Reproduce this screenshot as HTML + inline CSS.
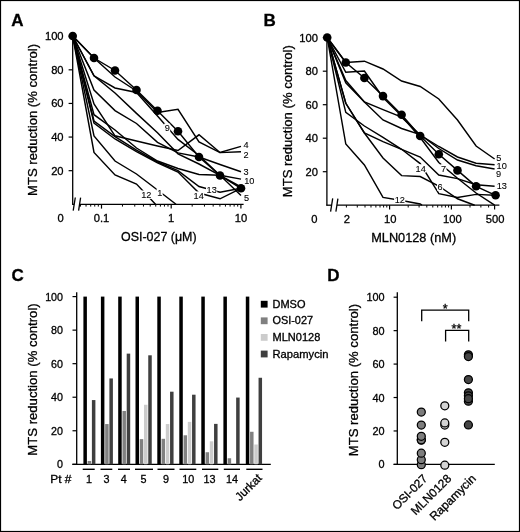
<!DOCTYPE html><html><head><meta charset="utf-8"><style>html,body{margin:0;padding:0;background:#fff;}svg{display:block;filter:grayscale(1);}</style></head><body>
<svg width="520" height="532" viewBox="0 0 520 532" font-family='"Liberation Sans", sans-serif'>
<style>text{stroke:#000;stroke-width:0.3px;paint-order:fill;} text.lb{stroke-width:0.1px;}</style>
<rect x="0" y="0" width="520" height="532" fill="#fff"/>
<rect x="0.5" y="0.5" width="519" height="531" fill="none" stroke="#000" stroke-width="1.2"/>
<text x="11.3" y="25.6" font-size="17" font-weight="bold">A</text>
<text x="263.5" y="25.6" font-size="17" font-weight="bold">B</text>
<text x="11.6" y="281.3" font-size="17" font-weight="bold">C</text>
<text x="327.2" y="281.3" font-size="17" font-weight="bold">D</text>
<line x1="72.7" y1="35.7" x2="72.7" y2="204.5" stroke="#000" stroke-width="1.3"/>
<line x1="68.60000000000001" y1="36.19999999999999" x2="72.7" y2="36.19999999999999" stroke="#000" stroke-width="1.2"/>
<text x="63.6" y="40.09999999999999" font-size="11.2" text-anchor="end">100</text>
<line x1="68.60000000000001" y1="69.82" x2="72.7" y2="69.82" stroke="#000" stroke-width="1.2"/>
<text x="63.6" y="73.72" font-size="11.2" text-anchor="end">80</text>
<line x1="68.60000000000001" y1="103.44" x2="72.7" y2="103.44" stroke="#000" stroke-width="1.2"/>
<text x="63.6" y="107.34" font-size="11.2" text-anchor="end">60</text>
<line x1="68.60000000000001" y1="137.06" x2="72.7" y2="137.06" stroke="#000" stroke-width="1.2"/>
<text x="63.6" y="140.96" font-size="11.2" text-anchor="end">40</text>
<line x1="68.60000000000001" y1="170.68" x2="72.7" y2="170.68" stroke="#000" stroke-width="1.2"/>
<text x="63.6" y="174.58" font-size="11.2" text-anchor="end">20</text>
<line x1="72.10000000000001" y1="204.3" x2="74.0" y2="204.3" stroke="#000" stroke-width="1.3"/>
<line x1="73.2" y1="210.70000000000002" x2="75.3" y2="197.5" stroke="#000" stroke-width="1.3"/>
<line x1="78.6" y1="210.70000000000002" x2="80.6" y2="197.70000000000002" stroke="#000" stroke-width="1.3"/>
<line x1="79.6" y1="204.3" x2="243.6" y2="204.3" stroke="#000" stroke-width="1.3"/>
<line x1="101.5" y1="204.3" x2="101.5" y2="208.60000000000002" stroke="#000" stroke-width="1.2"/>
<line x1="171.2" y1="204.3" x2="171.2" y2="208.60000000000002" stroke="#000" stroke-width="1.2"/>
<line x1="240.9" y1="204.3" x2="240.9" y2="208.60000000000002" stroke="#000" stroke-width="1.2"/>
<line x1="80.51820930222051" y1="204.3" x2="80.51820930222051" y2="206.60000000000002" stroke="#000" stroke-width="1.0"/>
<line x1="86.03714215173996" y1="204.3" x2="86.03714215173996" y2="206.60000000000002" stroke="#000" stroke-width="1.0"/>
<line x1="90.7033333889937" y1="204.3" x2="90.7033333889937" y2="206.60000000000002" stroke="#000" stroke-width="1.0"/>
<line x1="94.74537209333846" y1="204.3" x2="94.74537209333846" y2="206.60000000000002" stroke="#000" stroke-width="1.0"/>
<line x1="98.31070290792094" y1="204.3" x2="98.31070290792094" y2="206.60000000000002" stroke="#000" stroke-width="1.0"/>
<line x1="122.48179069777949" y1="204.3" x2="122.48179069777949" y2="206.60000000000002" stroke="#000" stroke-width="1.0"/>
<line x1="134.7553514539605" y1="204.3" x2="134.7553514539605" y2="206.60000000000002" stroke="#000" stroke-width="1.0"/>
<line x1="143.46358139555898" y1="204.3" x2="143.46358139555898" y2="206.60000000000002" stroke="#000" stroke-width="1.0"/>
<line x1="150.21820930222052" y1="204.3" x2="150.21820930222052" y2="206.60000000000002" stroke="#000" stroke-width="1.0"/>
<line x1="155.73714215174" y1="204.3" x2="155.73714215174" y2="206.60000000000002" stroke="#000" stroke-width="1.0"/>
<line x1="160.4033333889937" y1="204.3" x2="160.4033333889937" y2="206.60000000000002" stroke="#000" stroke-width="1.0"/>
<line x1="164.44537209333848" y1="204.3" x2="164.44537209333848" y2="206.60000000000002" stroke="#000" stroke-width="1.0"/>
<line x1="168.01070290792094" y1="204.3" x2="168.01070290792094" y2="206.60000000000002" stroke="#000" stroke-width="1.0"/>
<line x1="192.1817906977795" y1="204.3" x2="192.1817906977795" y2="206.60000000000002" stroke="#000" stroke-width="1.0"/>
<line x1="204.45535145396047" y1="204.3" x2="204.45535145396047" y2="206.60000000000002" stroke="#000" stroke-width="1.0"/>
<line x1="213.163581395559" y1="204.3" x2="213.163581395559" y2="206.60000000000002" stroke="#000" stroke-width="1.0"/>
<line x1="219.91820930222053" y1="204.3" x2="219.91820930222053" y2="206.60000000000002" stroke="#000" stroke-width="1.0"/>
<line x1="225.43714215173998" y1="204.3" x2="225.43714215173998" y2="206.60000000000002" stroke="#000" stroke-width="1.0"/>
<line x1="230.10333338899372" y1="204.3" x2="230.10333338899372" y2="206.60000000000002" stroke="#000" stroke-width="1.0"/>
<line x1="234.14537209333847" y1="204.3" x2="234.14537209333847" y2="206.60000000000002" stroke="#000" stroke-width="1.0"/>
<line x1="237.71070290792093" y1="204.3" x2="237.71070290792093" y2="206.60000000000002" stroke="#000" stroke-width="1.0"/>
<text x="101.5" y="221.9" font-size="11.2" text-anchor="middle">0.1</text>
<text x="171.2" y="221.9" font-size="11.2" text-anchor="middle">1</text>
<text x="240.9" y="221.9" font-size="11.2" text-anchor="middle">10</text>
<text x="60.5" y="221.9" font-size="11.2" text-anchor="middle">0</text>
<text x="121.0" y="241.0" font-size="12.6" textLength="75.6" lengthAdjust="spacingAndGlyphs">OSI-027 (μM)</text>
<text x="0" y="0" font-size="12.8" transform="translate(37.4,119.9) rotate(-90)" text-anchor="middle" textLength="152" lengthAdjust="spacingAndGlyphs">MTS reduction (% control)</text>
<polyline points="72.7,36.0 94.0,58.0 115.0,77.0 136.5,91.0 157.5,112.5 178.0,109.3 199.0,142.0 220.0,152.6 241.0,151.7" fill="none" stroke="#000" stroke-width="1.45" stroke-linejoin="miter" stroke-miterlimit="3"/>
<polyline points="72.7,36.0 94.0,75.8 115.0,88.0 136.5,92.5 157.5,116.0 178.0,139.4 199.0,155.5 220.0,175.3 241.0,187.0" fill="none" stroke="#000" stroke-width="1.45" stroke-linejoin="miter" stroke-miterlimit="3"/>
<polyline points="72.7,36.0 94.0,104.0 115.0,135.8 136.5,141.0 157.5,146.0 178.0,150.5 199.0,134.8 220.0,152.5 241.0,146.4" fill="none" stroke="#000" stroke-width="1.45" stroke-linejoin="miter" stroke-miterlimit="3"/>
<polyline points="72.7,36.0 94.0,90.0 115.0,110.6 136.5,123.5 157.5,142.3 178.0,152.9 199.0,157.0 220.0,164.5 241.0,171.7" fill="none" stroke="#000" stroke-width="1.45" stroke-linejoin="miter" stroke-miterlimit="3"/>
<polyline points="72.7,36.0 94.0,75.8 115.0,93.0 136.5,113.4 157.5,132.8 178.0,153.8 199.0,164.0 220.0,175.3 241.0,195.6" fill="none" stroke="#000" stroke-width="1.45" stroke-linejoin="miter" stroke-miterlimit="3"/>
<polyline points="72.7,36.0 94.0,114.7 115.0,130.0 136.5,148.0 157.5,161.0 178.0,168.5 199.0,174.5 220.0,175.3 241.0,179.1" fill="none" stroke="#000" stroke-width="1.45" stroke-linejoin="miter" stroke-miterlimit="3"/>
<polyline points="72.7,36.0 94.0,121.0 115.0,136.6 136.5,150.2 157.5,162.0 178.0,170.6 199.0,186.5 220.0,192.3 241.0,188.3" fill="none" stroke="#000" stroke-width="1.45" stroke-linejoin="miter" stroke-miterlimit="3"/>
<polyline points="72.7,36.0 94.0,123.2 115.0,139.0 136.5,151.6 157.5,162.8 178.0,172.0 199.0,193.0 220.0,198.8 241.0,188.3" fill="none" stroke="#000" stroke-width="1.45" stroke-linejoin="miter" stroke-miterlimit="3"/>
<polyline points="72.7,36.0 94.0,136.0 115.0,161.0 136.5,174.0 157.5,190.0 176.0,204.3" fill="none" stroke="#000" stroke-width="1.45" stroke-linejoin="miter" stroke-miterlimit="3"/>
<polyline points="72.7,36.0 94.0,152.5 115.0,175.0 136.5,184.0 155.5,204.3" fill="none" stroke="#000" stroke-width="1.45" stroke-linejoin="miter" stroke-miterlimit="3"/>
<polyline points="72.7,36.0 94.0,58.0 115.0,70.5 136.5,90.0 157.5,110.8 178.0,131.3 199.0,157.0 220.0,175.5 241.0,188.3" fill="none" stroke="#000" stroke-width="1.45" stroke-linejoin="miter" stroke-miterlimit="3"/>
<circle cx="72.7" cy="36" r="4.3" fill="#000"/>
<circle cx="94" cy="58" r="4.3" fill="#000"/>
<circle cx="115" cy="70.5" r="4.3" fill="#000"/>
<circle cx="136.5" cy="90" r="4.3" fill="#000"/>
<circle cx="157.5" cy="110.8" r="4.3" fill="#000"/>
<circle cx="178" cy="131.3" r="4.3" fill="#000"/>
<circle cx="199" cy="157" r="4.3" fill="#000"/>
<circle cx="220" cy="175.5" r="4.3" fill="#000"/>
<circle cx="241" cy="188.3" r="4.3" fill="#000"/>
<rect x="242.9" y="140.3" width="6.1" height="8.4" fill="#fff"/>
<text x="243.5" y="147.6" font-size="9.2" class="lb">4</text>
<rect x="242.9" y="150.7" width="6.1" height="8.4" fill="#fff"/>
<text x="243.5" y="158.0" font-size="9.2" class="lb">2</text>
<rect x="242.9" y="167.8" width="6.1" height="8.4" fill="#fff"/>
<text x="243.5" y="175.1" font-size="9.2" class="lb">3</text>
<rect x="243.6" y="176.5" width="11.2" height="8.4" fill="#fff"/>
<text x="244.2" y="183.8" font-size="9.2" class="lb">10</text>
<rect x="243.3" y="193.3" width="6.1" height="8.4" fill="#fff"/>
<text x="243.9" y="200.6" font-size="9.2" class="lb">5</text>
<rect x="164.1" y="123.6" width="6.1" height="8.4" fill="#fff"/>
<text x="164.7" y="130.9" font-size="9.2" class="lb">9</text>
<rect x="206.0" y="185.3" width="11.2" height="8.4" fill="#fff"/>
<text x="206.6" y="192.6" font-size="9.2" class="lb">13</text>
<rect x="193.0" y="191.4" width="11.2" height="8.4" fill="#fff"/>
<text x="193.6" y="198.7" font-size="9.2" class="lb">14</text>
<rect x="140.6" y="190.5" width="11.2" height="8.4" fill="#fff"/>
<text x="141.2" y="197.8" font-size="9.2" class="lb">12</text>
<rect x="156.6" y="188.3" width="6.1" height="8.4" fill="#fff"/>
<text x="157.2" y="195.6" font-size="9.2" class="lb">1</text>
<line x1="326.9" y1="37.2" x2="326.9" y2="205.39999999999998" stroke="#000" stroke-width="1.3"/>
<line x1="322.79999999999995" y1="37.69999999999999" x2="326.9" y2="37.69999999999999" stroke="#000" stroke-width="1.2"/>
<text x="317.9" y="41.59999999999999" font-size="11.2" text-anchor="end">100</text>
<line x1="322.79999999999995" y1="71.19999999999999" x2="326.9" y2="71.19999999999999" stroke="#000" stroke-width="1.2"/>
<text x="317.9" y="75.1" font-size="11.2" text-anchor="end">80</text>
<line x1="322.79999999999995" y1="104.69999999999999" x2="326.9" y2="104.69999999999999" stroke="#000" stroke-width="1.2"/>
<text x="317.9" y="108.6" font-size="11.2" text-anchor="end">60</text>
<line x1="322.79999999999995" y1="138.2" x2="326.9" y2="138.2" stroke="#000" stroke-width="1.2"/>
<text x="317.9" y="142.1" font-size="11.2" text-anchor="end">40</text>
<line x1="322.79999999999995" y1="171.7" x2="326.9" y2="171.7" stroke="#000" stroke-width="1.2"/>
<text x="317.9" y="175.6" font-size="11.2" text-anchor="end">20</text>
<line x1="326.29999999999995" y1="205.2" x2="331.40000000000003" y2="205.2" stroke="#000" stroke-width="1.3"/>
<line x1="330.6" y1="211.6" x2="332.70000000000005" y2="198.39999999999998" stroke="#000" stroke-width="1.3"/>
<line x1="335.9" y1="211.6" x2="337.9" y2="198.6" stroke="#000" stroke-width="1.3"/>
<line x1="336.9" y1="205.2" x2="499.4" y2="205.2" stroke="#000" stroke-width="1.3"/>
<line x1="389.59634626796594" y1="205.2" x2="389.59634626796594" y2="209.5" stroke="#000" stroke-width="1.2"/>
<line x1="451.3963462679659" y1="205.2" x2="451.3963462679659" y2="209.5" stroke="#000" stroke-width="1.2"/>
<line x1="494.59269253593186" y1="205.2" x2="494.59269253593186" y2="209.5" stroke="#000" stroke-width="1.2"/>
<line x1="346.4" y1="205.2" x2="346.4" y2="207.5" stroke="#000" stroke-width="1.0"/>
<line x1="357.28243980964106" y1="205.2" x2="357.28243980964106" y2="207.5" stroke="#000" stroke-width="1.0"/>
<line x1="365.003653732034" y1="205.2" x2="365.003653732034" y2="207.5" stroke="#000" stroke-width="1.0"/>
<line x1="370.9926925359319" y1="205.2" x2="370.9926925359319" y2="207.5" stroke="#000" stroke-width="1.0"/>
<line x1="375.8860935416751" y1="205.2" x2="375.8860935416751" y2="207.5" stroke="#000" stroke-width="1.0"/>
<line x1="380.023405140847" y1="205.2" x2="380.023405140847" y2="207.5" stroke="#000" stroke-width="1.0"/>
<line x1="383.60730746406807" y1="205.2" x2="383.60730746406807" y2="207.5" stroke="#000" stroke-width="1.0"/>
<line x1="386.7685333513162" y1="205.2" x2="386.7685333513162" y2="207.5" stroke="#000" stroke-width="1.0"/>
<line x1="408.2" y1="205.2" x2="408.2" y2="207.5" stroke="#000" stroke-width="1.0"/>
<line x1="419.0824398096411" y1="205.2" x2="419.0824398096411" y2="207.5" stroke="#000" stroke-width="1.0"/>
<line x1="426.80365373203404" y1="205.2" x2="426.80365373203404" y2="207.5" stroke="#000" stroke-width="1.0"/>
<line x1="432.7926925359319" y1="205.2" x2="432.7926925359319" y2="207.5" stroke="#000" stroke-width="1.0"/>
<line x1="437.6860935416751" y1="205.2" x2="437.6860935416751" y2="207.5" stroke="#000" stroke-width="1.0"/>
<line x1="441.823405140847" y1="205.2" x2="441.823405140847" y2="207.5" stroke="#000" stroke-width="1.0"/>
<line x1="445.407307464068" y1="205.2" x2="445.407307464068" y2="207.5" stroke="#000" stroke-width="1.0"/>
<line x1="448.5685333513162" y1="205.2" x2="448.5685333513162" y2="207.5" stroke="#000" stroke-width="1.0"/>
<line x1="470.0" y1="205.2" x2="470.0" y2="207.5" stroke="#000" stroke-width="1.0"/>
<line x1="480.8824398096411" y1="205.2" x2="480.8824398096411" y2="207.5" stroke="#000" stroke-width="1.0"/>
<line x1="488.603653732034" y1="205.2" x2="488.603653732034" y2="207.5" stroke="#000" stroke-width="1.0"/>
<text x="346.79999999999995" y="223.39999999999998" font-size="11.2" text-anchor="middle">2</text>
<text x="390.19634626796596" y="223.39999999999998" font-size="11.2" text-anchor="middle">10</text>
<text x="452.2963462679659" y="223.39999999999998" font-size="11.2" text-anchor="middle">100</text>
<text x="495.1926925359319" y="223.39999999999998" font-size="11.2" text-anchor="middle">500</text>
<text x="314.3" y="223.39999999999998" font-size="11.2" text-anchor="middle">0</text>
<text x="371.2" y="241.89999999999998" font-size="12.6" textLength="85.0" lengthAdjust="spacingAndGlyphs">MLN0128 (nM)</text>
<text x="0" y="0" font-size="12.8" transform="translate(292.0,121.2) rotate(-90)" text-anchor="middle" textLength="152" lengthAdjust="spacingAndGlyphs">MTS reduction (% control)</text>
<polyline points="327.2,37.5 345.8,62.5 364.4,61.2 383.0,69.0 401.6,81.0 420.2,86.5 438.8,99.0 457.5,120.0 476.1,146.0 494.6,159.0" fill="none" stroke="#000" stroke-width="1.45" stroke-linejoin="miter" stroke-miterlimit="3"/>
<polyline points="327.2,37.5 345.8,72.3 364.4,71.1 383.0,97.5 401.6,116.0 420.2,137.5 438.8,162.5 457.5,178.3 476.1,193.0 494.6,205.2" fill="none" stroke="#000" stroke-width="1.45" stroke-linejoin="miter" stroke-miterlimit="3"/>
<polyline points="327.2,37.5 345.8,80.6 364.4,102.0 383.0,109.7 401.6,117.2 420.2,135.0 438.8,146.5 457.5,157.0 476.1,163.2 494.6,164.7" fill="none" stroke="#000" stroke-width="1.45" stroke-linejoin="miter" stroke-miterlimit="3"/>
<polyline points="327.2,37.5 345.8,82.8 364.4,102.0 383.0,120.0 401.6,128.5 420.2,134.6 438.8,148.5 457.5,160.0 476.1,165.8 494.6,169.0" fill="none" stroke="#000" stroke-width="1.45" stroke-linejoin="miter" stroke-miterlimit="3"/>
<polyline points="327.2,37.5 345.8,103.3 364.4,133.0 383.0,141.6 401.6,149.3 420.2,157.1 438.8,175.0 457.5,178.6 476.1,184.7 494.6,186.3" fill="none" stroke="#000" stroke-width="1.45" stroke-linejoin="miter" stroke-miterlimit="3"/>
<polyline points="327.2,37.5 345.8,112.3 364.4,126.0 383.0,137.3 401.6,149.3 420.2,163.6 438.8,193.7 457.5,197.5 476.1,194.4 494.6,195.3" fill="none" stroke="#000" stroke-width="1.45" stroke-linejoin="miter" stroke-miterlimit="3"/>
<polyline points="327.2,37.5 345.8,103.3 364.4,133.0 383.0,158.0 401.6,175.6 420.2,176.5 438.8,186.0 457.5,198.8 474.7,205.2" fill="none" stroke="#000" stroke-width="1.45" stroke-linejoin="miter" stroke-miterlimit="3"/>
<polyline points="327.2,37.5 345.8,144.0 364.4,165.0 383.0,197.4 401.6,200.5 420.2,204.0 422.0,205.2" fill="none" stroke="#000" stroke-width="1.45" stroke-linejoin="miter" stroke-miterlimit="3"/>
<polyline points="327.2,37.5 345.8,62.5 364.4,78.0 383.0,96.1 401.6,114.8 420.2,136.0 438.8,154.3 457.5,170.4 476.1,186.3 495.6,195.3" fill="none" stroke="#000" stroke-width="1.45" stroke-linejoin="miter" stroke-miterlimit="3"/>
<circle cx="327.2" cy="37.5" r="4.3" fill="#000"/>
<circle cx="345.8" cy="62.5" r="4.3" fill="#000"/>
<circle cx="364.4" cy="78" r="4.3" fill="#000"/>
<circle cx="383" cy="96.1" r="4.3" fill="#000"/>
<circle cx="401.6" cy="114.8" r="4.3" fill="#000"/>
<circle cx="420.2" cy="136" r="4.3" fill="#000"/>
<circle cx="438.8" cy="154.3" r="4.3" fill="#000"/>
<circle cx="457.5" cy="170.4" r="4.3" fill="#000"/>
<circle cx="476.1" cy="186.3" r="4.3" fill="#000"/>
<circle cx="495.6" cy="195.3" r="4.3" fill="#000"/>
<rect x="495.6" y="153.2" width="6.1" height="8.4" fill="#fff"/>
<text x="496.2" y="160.5" font-size="9.2" class="lb">5</text>
<rect x="496.0" y="161.3" width="11.2" height="8.4" fill="#fff"/>
<text x="496.6" y="168.6" font-size="9.2" class="lb">10</text>
<rect x="495.3" y="169.2" width="6.1" height="8.4" fill="#fff"/>
<text x="495.9" y="176.5" font-size="9.2" class="lb">9</text>
<rect x="496.1" y="181.2" width="11.2" height="8.4" fill="#fff"/>
<text x="496.7" y="188.5" font-size="9.2" class="lb">13</text>
<rect x="415.0" y="164.2" width="11.2" height="8.4" fill="#fff"/>
<text x="415.6" y="171.5" font-size="9.2" class="lb">14</text>
<rect x="440.4" y="164.2" width="6.1" height="8.4" fill="#fff"/>
<text x="441.0" y="171.5" font-size="9.2" class="lb">7</text>
<rect x="437.0" y="182.3" width="6.1" height="8.4" fill="#fff"/>
<text x="437.6" y="189.6" font-size="9.2" class="lb">6</text>
<rect x="394.1" y="195.4" width="11.2" height="8.4" fill="#fff"/>
<text x="394.7" y="202.7" font-size="9.2" class="lb">12</text>
<line x1="76.7" y1="292.3" x2="76.7" y2="464.3" stroke="#000" stroke-width="1.3"/>
<line x1="72.3" y1="464.3" x2="270.8" y2="464.3" stroke="#000" stroke-width="1.3"/>
<line x1="72.5" y1="296.6" x2="76.7" y2="296.6" stroke="#000" stroke-width="1.2"/>
<text x="63.0" y="300.6" font-size="10.7" text-anchor="end">100</text>
<line x1="72.5" y1="330.14" x2="76.7" y2="330.14" stroke="#000" stroke-width="1.2"/>
<text x="63.0" y="334.14" font-size="10.7" text-anchor="end">80</text>
<line x1="72.5" y1="363.68" x2="76.7" y2="363.68" stroke="#000" stroke-width="1.2"/>
<text x="63.0" y="367.68" font-size="10.7" text-anchor="end">60</text>
<line x1="72.5" y1="397.22" x2="76.7" y2="397.22" stroke="#000" stroke-width="1.2"/>
<text x="63.0" y="401.22" font-size="10.7" text-anchor="end">40</text>
<line x1="72.5" y1="430.76" x2="76.7" y2="430.76" stroke="#000" stroke-width="1.2"/>
<text x="63.0" y="434.76" font-size="10.7" text-anchor="end">20</text>
<line x1="72.5" y1="464.3" x2="76.7" y2="464.3" stroke="#000" stroke-width="1.2"/>
<text x="63.0" y="468.3" font-size="10.7" text-anchor="end">0</text>
<text x="0" y="0" font-size="12.8" transform="translate(37.1,379.5) rotate(-90)" text-anchor="middle" textLength="152.4" lengthAdjust="spacingAndGlyphs">MTS reduction (% control)</text>
<rect x="83.40" y="296.60" width="3.5" height="167.70" fill="#000000"/>
<rect x="87.65" y="460.95" width="3.5" height="3.35" fill="#808080"/>
<rect x="91.90" y="400.07" width="3.5" height="64.23" fill="#3f3f3f"/>
<line x1="82.7" y1="469.3" x2="94.7" y2="469.3" stroke="#000" stroke-width="1.4"/>
<text x="89.0" y="483.3" font-size="10.8" text-anchor="middle">1</text>
<rect x="100.90" y="296.60" width="3.5" height="167.70" fill="#000000"/>
<rect x="105.15" y="424.05" width="3.5" height="40.25" fill="#808080"/>
<rect x="109.40" y="378.44" width="3.5" height="85.86" fill="#3f3f3f"/>
<line x1="100.5" y1="469.3" x2="112.3" y2="469.3" stroke="#000" stroke-width="1.4"/>
<text x="106.4" y="483.3" font-size="10.8" text-anchor="middle">3</text>
<rect x="118.20" y="296.60" width="3.5" height="167.70" fill="#000000"/>
<rect x="122.45" y="410.97" width="3.5" height="53.33" fill="#808080"/>
<rect x="126.70" y="353.62" width="3.5" height="110.68" fill="#3f3f3f"/>
<line x1="118" y1="469.3" x2="130" y2="469.3" stroke="#000" stroke-width="1.4"/>
<text x="123.7" y="483.3" font-size="10.8" text-anchor="middle">4</text>
<rect x="135.50" y="296.60" width="3.5" height="167.70" fill="#000000"/>
<rect x="139.75" y="439.14" width="3.5" height="25.16" fill="#808080"/>
<rect x="144.00" y="404.77" width="3.5" height="59.53" fill="#cccccc"/>
<rect x="148.25" y="355.30" width="3.5" height="109.00" fill="#3f3f3f"/>
<line x1="135" y1="469.3" x2="153" y2="469.3" stroke="#000" stroke-width="1.4"/>
<text x="143.4" y="483.3" font-size="10.8" text-anchor="middle">5</text>
<rect x="157.30" y="296.60" width="3.5" height="167.70" fill="#000000"/>
<rect x="161.55" y="438.81" width="3.5" height="25.49" fill="#808080"/>
<rect x="165.80" y="424.05" width="3.5" height="40.25" fill="#cccccc"/>
<rect x="170.05" y="391.69" width="3.5" height="72.61" fill="#3f3f3f"/>
<line x1="157.5" y1="469.3" x2="174.5" y2="469.3" stroke="#000" stroke-width="1.4"/>
<text x="165.9" y="483.3" font-size="10.8" text-anchor="middle">9</text>
<rect x="179.30" y="296.60" width="3.5" height="167.70" fill="#000000"/>
<rect x="183.55" y="435.29" width="3.5" height="29.01" fill="#808080"/>
<rect x="187.80" y="421.87" width="3.5" height="42.43" fill="#cccccc"/>
<rect x="192.05" y="394.70" width="3.5" height="69.60" fill="#3f3f3f"/>
<line x1="179.5" y1="469.3" x2="196.3" y2="469.3" stroke="#000" stroke-width="1.4"/>
<text x="188.3" y="483.3" font-size="10.8" text-anchor="middle">10</text>
<rect x="201.30" y="296.60" width="3.5" height="167.70" fill="#000000"/>
<rect x="205.55" y="452.23" width="3.5" height="12.07" fill="#808080"/>
<rect x="209.80" y="441.33" width="3.5" height="22.97" fill="#cccccc"/>
<rect x="214.05" y="423.88" width="3.5" height="40.42" fill="#3f3f3f"/>
<line x1="202" y1="469.3" x2="218.3" y2="469.3" stroke="#000" stroke-width="1.4"/>
<text x="209.6" y="483.3" font-size="10.8" text-anchor="middle">13</text>
<rect x="223.40" y="296.60" width="3.5" height="167.70" fill="#000000"/>
<rect x="227.65" y="458.26" width="3.5" height="6.04" fill="#808080"/>
<rect x="236.15" y="397.56" width="3.5" height="66.74" fill="#3f3f3f"/>
<line x1="223.8" y1="469.3" x2="240" y2="469.3" stroke="#000" stroke-width="1.4"/>
<text x="232.1" y="483.3" font-size="10.8" text-anchor="middle">14</text>
<rect x="245.80" y="296.60" width="3.5" height="167.70" fill="#000000"/>
<rect x="250.05" y="431.77" width="3.5" height="32.53" fill="#808080"/>
<rect x="254.30" y="444.51" width="3.5" height="19.79" fill="#cccccc"/>
<rect x="258.55" y="377.77" width="3.5" height="86.53" fill="#3f3f3f"/>
<line x1="246.3" y1="469.3" x2="262.5" y2="469.3" stroke="#000" stroke-width="1.4"/>
<text x="0" y="0" font-size="11.8" transform="translate(262.6,478.8) rotate(-45)" text-anchor="end">Jurkat</text>
<text x="50.2" y="483.3" font-size="10.8" textLength="21.2" lengthAdjust="spacingAndGlyphs">Pt #</text>
<rect x="260.8" y="300.8" width="6.8" height="6.8" fill="#000000"/>
<text x="272.5" y="307.7" font-size="10.4" textLength="33.0" lengthAdjust="spacingAndGlyphs">DMSO</text>
<rect x="260.8" y="317.4" width="6.8" height="6.8" fill="#808080"/>
<text x="272.5" y="324.3" font-size="10.4" textLength="40.5" lengthAdjust="spacingAndGlyphs">OSI-027</text>
<rect x="260.8" y="334.0" width="6.8" height="6.8" fill="#cccccc"/>
<text x="272.5" y="340.9" font-size="10.4" textLength="47.8" lengthAdjust="spacingAndGlyphs">MLN0128</text>
<rect x="260.8" y="350.6" width="6.8" height="6.8" fill="#3f3f3f"/>
<text x="272.5" y="357.5" font-size="10.4" textLength="56.0" lengthAdjust="spacingAndGlyphs">Rapamycin</text>
<line x1="397.3" y1="292.3" x2="397.3" y2="464.4" stroke="#000" stroke-width="1.3"/>
<line x1="393.6" y1="464.4" x2="494.8" y2="464.4" stroke="#000" stroke-width="1.3"/>
<line x1="393.6" y1="297.2" x2="397.3" y2="297.2" stroke="#000" stroke-width="1.2"/>
<text x="384.6" y="301.2" font-size="10.9" text-anchor="end">100</text>
<line x1="393.6" y1="330.64" x2="397.3" y2="330.64" stroke="#000" stroke-width="1.2"/>
<text x="384.6" y="334.64" font-size="10.9" text-anchor="end">80</text>
<line x1="393.6" y1="364.08" x2="397.3" y2="364.08" stroke="#000" stroke-width="1.2"/>
<text x="384.6" y="368.08" font-size="10.9" text-anchor="end">60</text>
<line x1="393.6" y1="397.52" x2="397.3" y2="397.52" stroke="#000" stroke-width="1.2"/>
<text x="384.6" y="401.52" font-size="10.9" text-anchor="end">40</text>
<line x1="393.6" y1="430.96" x2="397.3" y2="430.96" stroke="#000" stroke-width="1.2"/>
<text x="384.6" y="434.96" font-size="10.9" text-anchor="end">20</text>
<line x1="393.6" y1="464.4" x2="397.3" y2="464.4" stroke="#000" stroke-width="1.2"/>
<text x="384.6" y="468.4" font-size="10.9" text-anchor="end">0</text>
<text x="0" y="0" font-size="12.8" transform="translate(357.7,380.1) rotate(-90)" text-anchor="middle" textLength="152.4" lengthAdjust="spacingAndGlyphs">MTS reduction (% control)</text>
<polyline points="421.7,321.2 421.7,310.2 468.7,310.2 468.7,321.2" fill="none" stroke="#000" stroke-width="1.3" stroke-linejoin="miter" stroke-miterlimit="3"/>
<polyline points="445.6,341.5 445.6,330.4 468.7,330.4 468.7,341.5" fill="none" stroke="#000" stroke-width="1.3" stroke-linejoin="miter" stroke-miterlimit="3"/>
<text x="445.2" y="312.9" font-size="12.6" text-anchor="middle">*</text>
<text x="456.5" y="332.8" font-size="12.6" text-anchor="middle">**</text>
<circle cx="421.3" cy="464.70" r="4.0" fill="#7d7d7d" stroke="#000" stroke-width="1.25"/>
<circle cx="421.3" cy="459.68" r="4.0" fill="#7d7d7d" stroke="#000" stroke-width="1.25"/>
<circle cx="421.3" cy="453.16" r="4.0" fill="#7d7d7d" stroke="#000" stroke-width="1.25"/>
<circle cx="421.3" cy="440.12" r="4.0" fill="#7d7d7d" stroke="#000" stroke-width="1.25"/>
<circle cx="421.3" cy="439.79" r="4.0" fill="#7d7d7d" stroke="#000" stroke-width="1.25"/>
<circle cx="421.3" cy="436.27" r="4.0" fill="#7d7d7d" stroke="#000" stroke-width="1.25"/>
<circle cx="421.3" cy="425.07" r="4.0" fill="#7d7d7d" stroke="#000" stroke-width="1.25"/>
<circle cx="421.3" cy="412.03" r="4.0" fill="#7d7d7d" stroke="#000" stroke-width="1.25"/>
<circle cx="444.8" cy="405.84" r="4.0" fill="#d4d4d4" stroke="#000" stroke-width="1.25"/>
<circle cx="444.8" cy="425.07" r="4.0" fill="#d4d4d4" stroke="#000" stroke-width="1.25"/>
<circle cx="444.8" cy="422.90" r="4.0" fill="#d4d4d4" stroke="#000" stroke-width="1.25"/>
<circle cx="444.8" cy="442.29" r="4.0" fill="#d4d4d4" stroke="#000" stroke-width="1.25"/>
<circle cx="444.8" cy="465.20" r="4.0" fill="#d4d4d4" stroke="#000" stroke-width="1.25"/>
<circle cx="468.4" cy="401.16" r="4.0" fill="#454545" stroke="#000" stroke-width="1.25"/>
<circle cx="468.4" cy="379.59" r="4.0" fill="#454545" stroke="#000" stroke-width="1.25"/>
<circle cx="468.4" cy="354.85" r="4.0" fill="#454545" stroke="#000" stroke-width="1.25"/>
<circle cx="468.4" cy="356.52" r="4.0" fill="#454545" stroke="#000" stroke-width="1.25"/>
<circle cx="468.4" cy="392.80" r="4.0" fill="#454545" stroke="#000" stroke-width="1.25"/>
<circle cx="468.4" cy="395.81" r="4.0" fill="#454545" stroke="#000" stroke-width="1.25"/>
<circle cx="468.4" cy="424.90" r="4.0" fill="#454545" stroke="#000" stroke-width="1.25"/>
<circle cx="468.4" cy="398.65" r="4.0" fill="#454545" stroke="#000" stroke-width="1.25"/>
<text x="0" y="0" font-size="11.9" transform="translate(428.2,479.3) rotate(-45)" text-anchor="end">OSI-027</text>
<text x="0" y="0" font-size="11.9" transform="translate(452.2,479.3) rotate(-45)" text-anchor="end">MLN0128</text>
<text x="0" y="0" font-size="11.9" transform="translate(476.6,479.3) rotate(-45)" text-anchor="end">Rapamycin</text>
</svg></body></html>
